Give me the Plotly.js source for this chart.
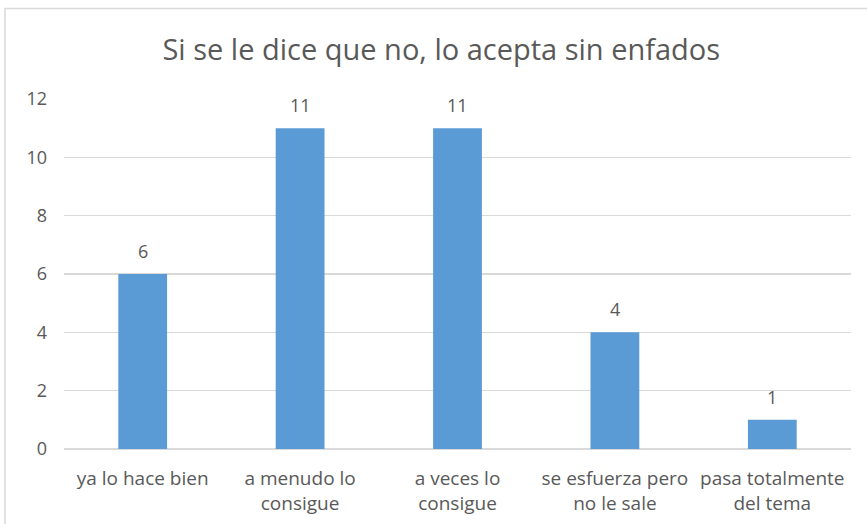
<!DOCTYPE html>
<html><head><meta charset="utf-8">
<script src="https://cdn.plot.ly/plotly-3.0.1.min.js"></script>
<style>html,body{margin:0;padding:0;background:#fff;}#chart{width:867px;height:524px;}</style>
</head><body><div id="chart"></div>
<script>
const categories = ["ya lo hace bien", "a menudo lo<br>consigue", "a veces lo<br>consigue", "se esfuerza pero<br>no le sale", "pasa totalmente<br>del tema"];
const values = [6, 11, 11, 4, 1];
const yTicks = [0, 2, 4, 6, 8, 10, 12];
const titleText = "Si se le dice que no, lo acepta sin enfados";

const txt = "#595959";
const font = "Open Sans, Noto Sans, sans-serif";

const labelAnnotations = categories.map((c, i) => ({
  x: c, y: values[i], xref: "x", yref: "y",
  text: String(values[i]), showarrow: false,
  yanchor: "middle", yshift: 23,
  font: {family: font, size: 18, color: txt}
}));

Plotly.newPlot("chart", [{
  type: "bar",
  x: categories,
  y: values,
  marker: {color: "#5B9BD5"},
  hoverinfo: "none"
}], {
  width: 867, height: 524,
  margin: {l: 64, r: 16, t: 99, b: 75, pad: 0},
  paper_bgcolor: "#fff", plot_bgcolor: "#fff",
  bargap: 0.69,
  showlegend: false,
  title: {text: titleText, font: {family: font, size: 29, color: txt}, x: 0.509, xanchor: "center", y: 0.905, yanchor: "middle"},
  xaxis: {
    tickfont: {family: font, size: 19, color: txt},
    showgrid: false, showline: false, ticks: "", zeroline: false,
    ticklabelstandoff: 16
  },
  yaxis: {
    range: [0, 12], tickvals: yTicks, ticktext: yTicks.map(String),
    tickfont: {family: font, size: 18, color: txt},
    showgrid: true, gridcolor: "#d9d9d9", gridwidth: 1.3,
    zeroline: true, zerolinecolor: "#d9d9d9", zerolinewidth: 1.3,
    showline: false, ticks: "", ticklabelstandoff: 16, fixedrange: true
  },
  annotations: labelAnnotations,
  shapes: [{
    type: "rect", xref: "paper", yref: "paper",
    x0: -0.075, x1: 1.05, y0: -0.3, y1: 1.2586,
    line: {color: "#d9d9d9", width: 1.5}, fillcolor: "rgba(0,0,0,0)", layer: "below"
  }]
}, {displayModeBar: false, staticPlot: true});
</script></body></html>
